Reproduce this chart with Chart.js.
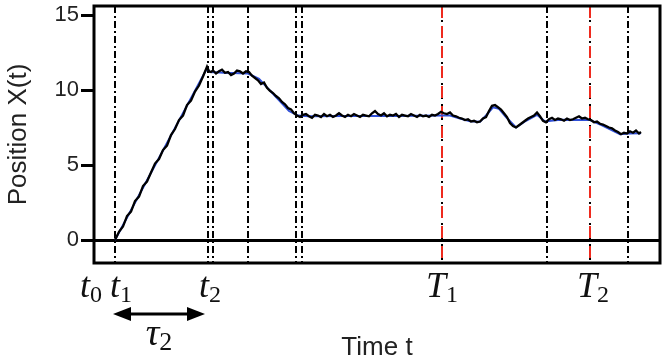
<!DOCTYPE html>
<html>
<head>
<meta charset="utf-8">
<script src="https://cdn.jsdelivr.net/npm/chart.js@4.4.1/dist/chart.umd.min.js"></script>
<style>
  html, body { margin: 0; padding: 0; background: #fff; }
</style>
</head>
<body>
<canvas id="chart" width="664" height="364"></canvas>
<script>
// trajectory (noisy)
const times = [
  2.1, 2.5, 2.9, 3.3, 3.7, 4.1, 4.5, 4.9, 5.3, 5.7, 6.1, 6.5, 6.9, 7.3, 7.7, 8.1, 8.5, 8.9, 9.3, 9.7, 10.1, 10.5, 10.9, 11.3,
  11.5, 11.7, 11.9, 12.2, 12.5, 12.8, 13.1, 13.4, 13.7, 14.0, 14.3, 14.6, 14.9, 15.2, 15.5,
  15.8, 16.1, 16.4, 16.7, 17.0, 17.3, 17.6, 17.9, 18.2, 18.5, 18.8, 19.1, 19.4, 19.7, 20.0, 20.3,
  20.6, 20.9, 21.2, 21.5, 21.8, 22.1, 22.4, 22.7, 23.0, 23.3, 23.6, 23.9, 24.2, 24.5, 24.8, 25.1, 25.4, 25.7, 26.0, 26.3,
  26.6, 26.9, 27.2, 27.5, 27.8, 28.1, 28.4, 28.7, 29.0, 29.3, 29.6, 29.9, 30.2, 30.5, 30.8, 31.1, 31.4, 31.7, 32.0, 32.3,
  32.6, 32.9, 33.2, 33.5, 33.8, 34.1, 34.4, 34.7, 35.0, 35.3, 35.6, 35.9, 36.2, 36.5, 36.8, 37.1, 37.4, 37.7, 38.0, 38.3,
  38.6, 38.9, 39.2, 39.5, 39.8, 40.1, 40.4, 40.7, 41.0, 41.3, 41.6, 41.9, 42.2, 42.5, 42.8, 43.1, 43.4, 43.7, 44.0, 44.3,
  44.6, 44.9, 45.2, 45.5, 45.8, 46.1, 46.4, 46.7, 47.0, 47.3, 47.6, 47.9, 48.2, 48.5, 48.8, 49.1, 49.4, 49.7, 50.0, 50.3,
  50.6, 50.9, 51.2, 51.5, 51.8, 52.1, 52.4, 52.7, 53.0, 53.3, 53.6, 53.9, 54.2, 54.5, 54.7
]
const position = [
  0.0, 0.55, 0.9, 1.6, 1.9, 2.6, 2.9, 3.6, 3.9, 4.5, 5.1, 5.4, 6.0, 6.3, 7.0, 7.4, 8.0, 8.3, 9.0, 9.3, 9.9, 10.3, 10.9, 11.55,
  11.25, 11.2, 11.3, 11.1, 11.25, 11.35, 11.15, 11.2, 11.0, 11.1, 11.3, 11.25, 11.1, 11.25, 11.2,
  10.95, 10.8, 10.65, 10.4, 10.5, 10.15, 9.95, 9.8, 9.6, 9.45, 9.2, 9.05, 8.8, 8.7, 8.45, 8.3,
  8.2, 8.35, 8.4, 8.25, 8.15, 8.35, 8.3, 8.2, 8.4, 8.25, 8.35, 8.2, 8.3, 8.45, 8.3, 8.2, 8.35, 8.25, 8.4, 8.3,
  8.2, 8.35, 8.3, 8.25, 8.45, 8.6, 8.4, 8.3, 8.45, 8.25, 8.35, 8.3, 8.4, 8.2, 8.35, 8.3, 8.25, 8.4, 8.3, 8.2,
  8.35, 8.25, 8.3, 8.2, 8.35, 8.3, 8.4, 8.55, 8.45, 8.4, 8.5, 8.3, 8.25, 8.15, 8.1, 8.0, 8.05, 7.9, 7.95, 7.85,
  7.9, 8.1, 8.2, 8.6, 8.95, 9.0, 8.85, 8.7, 8.45, 8.2, 7.8, 7.6, 7.5, 7.65, 7.8, 7.95, 8.1, 8.2, 8.3, 8.5,
  8.25, 7.95, 7.85, 8.05, 8.15, 8.0, 8.1, 8.05, 7.95, 8.1, 8.0, 8.05, 8.15, 8.25, 8.1, 8.15, 8.05, 8.0, 7.85, 7.9,
  7.75, 7.7, 7.6, 7.5, 7.45, 7.3, 7.2, 7.05, 7.15, 7.1, 7.25, 7.15, 7.3, 7.1, 7.2
]

// smooth blue curve under the trajectory
const fitTimes = [
  2.1, 11.3, 11.6, 13.0, 15.4, 16.5, 19.5, 20.4, 21.5, 25.0, 30.0, 34.8, 35.6, 36.6, 37.6,
  38.6, 39.2, 39.9, 40.5, 41.2, 42.2, 43.2, 44.3, 45.1, 46.6, 49.6, 50.8, 52.6, 53.5, 54.7
]
const fitPosition = [
  0.0, 11.45, 11.2, 11.15, 11.1, 10.75, 8.6, 8.3, 8.25, 8.27, 8.27, 8.3, 8.3, 8.1, 7.92,
  7.88, 8.3, 8.85, 8.75, 8.2, 7.5, 7.95, 8.35, 7.9, 8.02, 8.0, 7.65, 7.05, 7.1, 7.12
]

// dash-dot marker lines
const blackEvents = [2.1, 11.4, 11.9, 15.4, 20.2, 20.8, 45.3, 53.4]
const redEvents = [34.8, 49.6]

// x labels (math style)
const tickMain = ['t', 't', 't', 'T', 'T']
const tickSub = ['0', '1', '2', '1', '2']
const tickTimes = [-0.3, 2.7, 11.6, 34.8, 49.9]
const tauSpan = [2.1, 11.3]

const yTicks = [0, 5, 10, 15]

function vline(ctx, px, area, color, dash) {
  ctx.beginPath()
  ctx.strokeStyle = color
  ctx.setLineDash(dash)
  ctx.moveTo(px, area.top)
  ctx.lineTo(px, area.bottom)
  ctx.stroke()
}

function mathLabel(ctx, cx, base, main, sub, size, subSize) {
  const mainFont = 'italic ' + size + 'px "Liberation Serif"'
  const subFont = subSize + 'px "Liberation Serif"'
  ctx.font = mainFont
  const w1 = ctx.measureText(main).width
  ctx.font = subFont
  const w2 = ctx.measureText(sub).width
  const left = cx - (w1 + w2) / 2
  ctx.textAlign = 'left'
  ctx.textBaseline = 'alphabetic'
  ctx.fillStyle = '#111'
  ctx.font = mainFont
  ctx.fillText(main, left, base)
  ctx.font = subFont
  ctx.fillText(sub, left + w1, base + 5)
}

const extras = {
  id: 'extras',
  beforeDatasetsDraw(chart) {
    const { ctx, chartArea, scales: { x } } = chart
    ctx.save()
    ctx.lineWidth = 2
    blackEvents.forEach(t => vline(ctx, x.getPixelForValue(t), chartArea, '#000', [7, 3, 2, 3]))
    redEvents.forEach(t => {
      vline(ctx, x.getPixelForValue(t), chartArea, '#000', [2, 5])
      vline(ctx, x.getPixelForValue(t), chartArea, '#ee2a1e', [12, 8])
    })
    ctx.restore()
  },
  afterDraw(chart) {
    const { ctx, chartArea: a, scales: { x } } = chart
    ctx.save()
    // box
    ctx.strokeStyle = '#000'
    ctx.lineWidth = 3
    ctx.setLineDash([])
    ctx.strokeRect(a.left, a.top, a.right - a.left, a.bottom - a.top)

    // time labels
    tickMain.forEach((m, i) => {
      mathLabel(ctx, x.getPixelForValue(tickTimes[i]), 297, m, tickSub[i], 36, 24)
    })

    // tau arrow
    const x1 = x.getPixelForValue(tauSpan[0]) - 2
    const x2 = x.getPixelForValue(tauSpan[1]) - 2
    const ay = 314
    ctx.fillStyle = '#000'
    ctx.beginPath()
    ctx.moveTo(x1 + 12, ay)
    ctx.lineTo(x2 - 12, ay)
    ctx.stroke()
    ctx.beginPath()
    ctx.moveTo(x1, ay); ctx.lineTo(x1 + 18, ay - 7); ctx.lineTo(x1 + 18, ay + 7); ctx.closePath()
    ctx.fill()
    ctx.beginPath()
    ctx.moveTo(x2, ay); ctx.lineTo(x2 - 18, ay - 7); ctx.lineTo(x2 - 18, ay + 7); ctx.closePath()
    ctx.fill()
    mathLabel(ctx, (x1 + x2) / 2, 345, '\u03C4', '2', 38, 26)
    ctx.restore()
  }
}

new Chart(document.getElementById('chart'), {
  type: 'line',
  data: {
    datasets: [
      {
        label: 'X(t)',
        data: times.map((t, i) => ({ x: t, y: position[i] })),
        borderColor: '#000',
        borderWidth: 2.3,
        pointRadius: 0,
        tension: 0,
        order: 0
      },
      {
        label: 'fit',
        data: fitTimes.map((t, i) => ({ x: t, y: fitPosition[i] })),
        borderColor: '#2f4fd8',
        borderWidth: 2,
        pointRadius: 0,
        tension: 0,
        order: 1
      }
    ]
  },
  options: {
    responsive: false,
    animation: false,
    events: [],
    layout: { padding: { top: 6, right: 4, left: 0, bottom: 0 } },
    plugins: { legend: { display: false }, tooltip: { enabled: false } },
    scales: {
      x: {
        type: 'linear',
        min: 0,
        max: 56.6,
        grid: { display: false },
        border: { display: false },
        ticks: { display: false },
        title: {
          display: true,
          text: 'Time t',
          color: '#222',
          font: { family: '"Liberation Sans", Arial, sans-serif', size: 26 },
          padding: { top: 0, bottom: 1 }
        },
        afterFit(scale) {
          scale.height = 101
          scale.paddingLeft = 0
          scale.paddingRight = 0
        }
      },
      y: {
        min: -1.53,
        max: 15.6,
        afterBuildTicks(scale) { scale.ticks = yTicks.map(v => ({ value: v })) },
        grid: {
          color: c => (c.tick && c.tick.value === 0 ? '#000' : 'rgba(0,0,0,0)'),
          tickColor: '#000',
          lineWidth: 3,
          tickLength: 13
        },
        border: { display: false },
        ticks: {
          color: '#222',
          padding: 2,
          font: { family: '"Liberation Sans", Arial, sans-serif', size: 22 }
        },
        title: {
          display: true,
          text: 'Position X(t)',
          color: '#222',
          font: { family: '"Liberation Sans", Arial, sans-serif', size: 26 },
          padding: { top: 3, bottom: 0 }
        },
        afterFit(scale) {
          scale.width = 94
          scale.paddingTop = 0
          scale.paddingBottom = 0
        }
      }
    }
  },
  plugins: [extras]
})
</script>
</body>
</html>
